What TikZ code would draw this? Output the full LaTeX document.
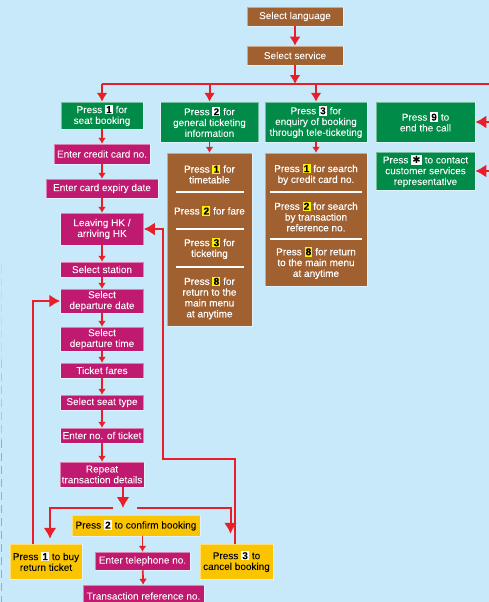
\documentclass[tikz,border=0pt]{standalone}
\usepackage{fontspec}
\setmainfont{Liberation Sans}
\newfontfamily\boxfont{Liberation Sans}[FakeBold=0.5]
\newfontfamily\symfont{DejaVu Sans}
\usetikzlibrary{arrows.meta}

\definecolor{sky}{RGB}{200,233,249}
\definecolor{boxbrown}{RGB}{160,96,48}
\definecolor{boxgreen}{RGB}{0,140,72}
\definecolor{boxmag}{RGB}{192,26,112}
\definecolor{boxyellow}{RGB}{250,196,0}
\definecolor{keyyellow}{RGB}{255,240,0}
\definecolor{linered}{RGB}{232,30,40}
\definecolor{dashorange}{RGB}{240,160,30}

\newcommand{\numkey}[2]{{\setlength{\fboxsep}{1.2pt}\colorbox{#1}{\textcolor{black}{\textbf{#2}}}}}

\begin{document}
\begin{tikzpicture}
                [
                x=1pt,y=-1pt,
                stage/.style={inner sep=1pt,align=center,text=white,draw=white,draw opacity=0.45,line width=0.5pt,font=\boxfont\fontsize{10}{10.8}\selectfont},
                brownbox/.style={stage,fill=boxbrown},
                greenbox/.style={stage,fill=boxgreen},
                magbox/.style={stage,fill=boxmag},
                yellowbox/.style={stage,fill=boxyellow,text=black},
                menutext/.style={inner sep=0pt,align=center,text=white,font=\boxfont\fontsize{10}{10.8}\selectfont},
                divider/.style={white,line width=1.5pt},
                wire/.style={linered,line width=2pt},
                edge/.style={wire,line width=1.7pt,-{Latex[length=6pt,width=8pt]}},
                midedge/.style={wire,-{Latex[length=9pt,width=11pt]}},
                bigedge/.style={wire,-{Latex[length=11pt,width=13pt]}},
                dashline/.style={dashorange,line width=1.8pt,dash pattern=on 8pt off 5pt}
                ]
            \fill[sky] (0,0) rectangle (489,602);
            \useasboundingbox (0,0) rectangle (489,602);
            \draw[dashline,opacity=0.25] (1.5,265) -- (1.5,360);
            \draw[dashline,opacity=0.55] (1.5,360) -- (1.5,440);
            \draw[dashline] (1.5,440) -- (1.5,602);

            % menu at the top
            \node[brownbox,minimum width=96,minimum height=19] (lang) at (295,16.5) {Select language};
            \node[brownbox,minimum width=96,minimum height=19] (service) at (295,55.5) {Select service};
            \node[greenbox,minimum width=82,minimum height=27] (booking) at (102,115.5) {Press \numkey{white}{1} for\\seat booking};
            \node[greenbox,minimum width=98,minimum height=40] (general) at (209.5,122) {Press \numkey{white}{2} for\\general ticketing\\information};
            \node[greenbox,minimum width=102,minimum height=40] (enquiry) at (316,122) {Press \numkey{white}{3} for\\enquiry of booking\\through tele-ticketing};
            \node[greenbox,minimum width=99,minimum height=40] (endcall) at (425.5,122) {Press \numkey{white}{9} to\\end the call};
            \node[greenbox,minimum width=99,minimum height=38] (contact) at (425.5,171) {Press \numkey{white}{\symfont ✱} to contact\\customer services\\representative};

            % general ticketing information
            \node[brownbox,minimum width=85,minimum height=173] (info) at (209.5,239.5) {};
            \node[menutext] (info1) at (209.5,174) {Press \numkey{keyyellow}{1} for\\timetable};
            \node[menutext] (info2) at (209.5,211) {Press \numkey{keyyellow}{2} for fare};
            \node[menutext] (info3) at (209.5,248.5) {Press \numkey{keyyellow}{3} for\\ticketing};
            \node[menutext] (info4) at (209.5,298) {Press \numkey{keyyellow}{8} for\\return to the\\main menu\\at anytime};
            \draw[divider] (176,192) -- (244,192);
            \draw[divider] (176,229) -- (244,229);
            \draw[divider] (176,267) -- (244,267);

            % enquiry of booking
            \node[brownbox,minimum width=102,minimum height=133] (search) at (316,219.5) {};
            \node[menutext] (search1) at (316,174.5) {Press \numkey{keyyellow}{1} for search\\by credit card no.};
            \node[menutext] (search2) at (316,216.5) {Press \numkey{keyyellow}{2} for search\\by transaction\\reference no.};
            \node[menutext] (search3) at (316,263) {Press \numkey{keyyellow}{8} for return\\to the main menu\\at anytime};
            \draw[divider] (270,192) -- (362,192);
            \draw[divider] (270,239) -- (362,239);

            % seat booking
            \node[magbox,minimum width=96,minimum height=20] (card) at (102,154) {Enter credit card no.};
            \node[magbox,minimum width=112,minimum height=19] (expiry) at (102,188.5) {Enter card expiry date};
            \node[magbox,minimum width=83,minimum height=32] (leaving) at (102,229) {Leaving HK /\\arriving HK};
            \node[magbox,minimum width=83,minimum height=15] (station) at (102,269.5) {Select station};
            \node[magbox,minimum width=83,minimum height=24] (depdate) at (102,301) {Select\\departure date};
            \node[magbox,minimum width=83,minimum height=24] (deptime) at (102,339) {Select\\departure time};
            \node[magbox,minimum width=83,minimum height=15] (fares) at (102,370.5) {Ticket fares};
            \node[magbox,minimum width=83,minimum height=15] (seattype) at (102,402.5) {Select seat type};
            \node[magbox,minimum width=83,minimum height=15] (tickets) at (102,435.5) {Enter no. of ticket};
            \node[magbox,minimum width=84,minimum height=25] (repeat) at (102,474.5) {Repeat\\transaction details};

            % choices at the end
            \node[yellowbox,minimum width=128,minimum height=21] (confirm) at (136,525.5) {Press \numkey{white}{2} to confirm booking};
            \node[yellowbox,minimum width=72,minimum height=35] (buyreturn) at (46,561.5) {Press \numkey{white}{1} to buy\\return ticket};
            \node[yellowbox,minimum width=73,minimum height=35] (cancel) at (236.5,561.5) {Press \numkey{white}{3} to\\cancel booking};
            \node[magbox,minimum width=95,minimum height=18] (phone) at (142.5,561) {Enter telephone no.};
            \node[magbox,minimum width=121,minimum height=22] (txref) at (143.5,596) {Transaction reference no.};

            \coordinate (busL) at (102,84);
            \coordinate (busR) at (489,84);
            \coordinate (split) at (123,508);
            \coordinate (splitL) at (113,508);
            \coordinate (splitR) at (137,508);
            \coordinate (loopR) at (163,459);

            \draw[midedge] (lang) -- (service);
            \draw[wire] (busL) -- (busR);
            \draw[midedge] (service) -- (service |- busL);
            \draw[midedge] (busL) -- (booking);
            \draw[midedge] (general |- busL) -- (general);
            \draw[midedge] (enquiry |- busL) -- (enquiry);
            \draw[bigedge] (endcall -| busR) -- (endcall);
            \draw[bigedge] (contact -| busR) -- (contact);
            \draw[edge] (general) -- (info);
            \draw[edge] (enquiry) -- (search);

            \draw[edge] (booking) -- (card);
            \draw[edge] (card) -- (expiry);
            \draw[edge] (expiry) -- (leaving);
            \draw[edge] (leaving) -- (station);
            \draw[edge] (station) -- (depdate);
            \draw[edge] (depdate) -- (deptime);
            \draw[edge] (deptime) -- (fares);
            \draw[edge] (fares) -- (seattype);
            \draw[edge] (seattype) -- (tickets);
            \draw[edge] (tickets) -- (repeat);

            \draw[bigedge] (repeat.south -| split) -- (split);
            \draw[bigedge,shorten >=5pt] (splitL) -| ([xshift=4pt]buyreturn.north);
            \draw[bigedge,shorten >=10pt] (splitR) -| ([xshift=-6pt]cancel.north);
            \draw[edge] (confirm.south -| phone) -- (phone);
            \draw[edge] (phone) -- (txref);

            \draw[bigedge] ([xshift=-13pt]buyreturn.north) |- (depdate);
            \draw[bigedge] ([xshift=-1.5pt]cancel.north) |- (loopR) |- (leaving);
\end{tikzpicture}
\end{document}
